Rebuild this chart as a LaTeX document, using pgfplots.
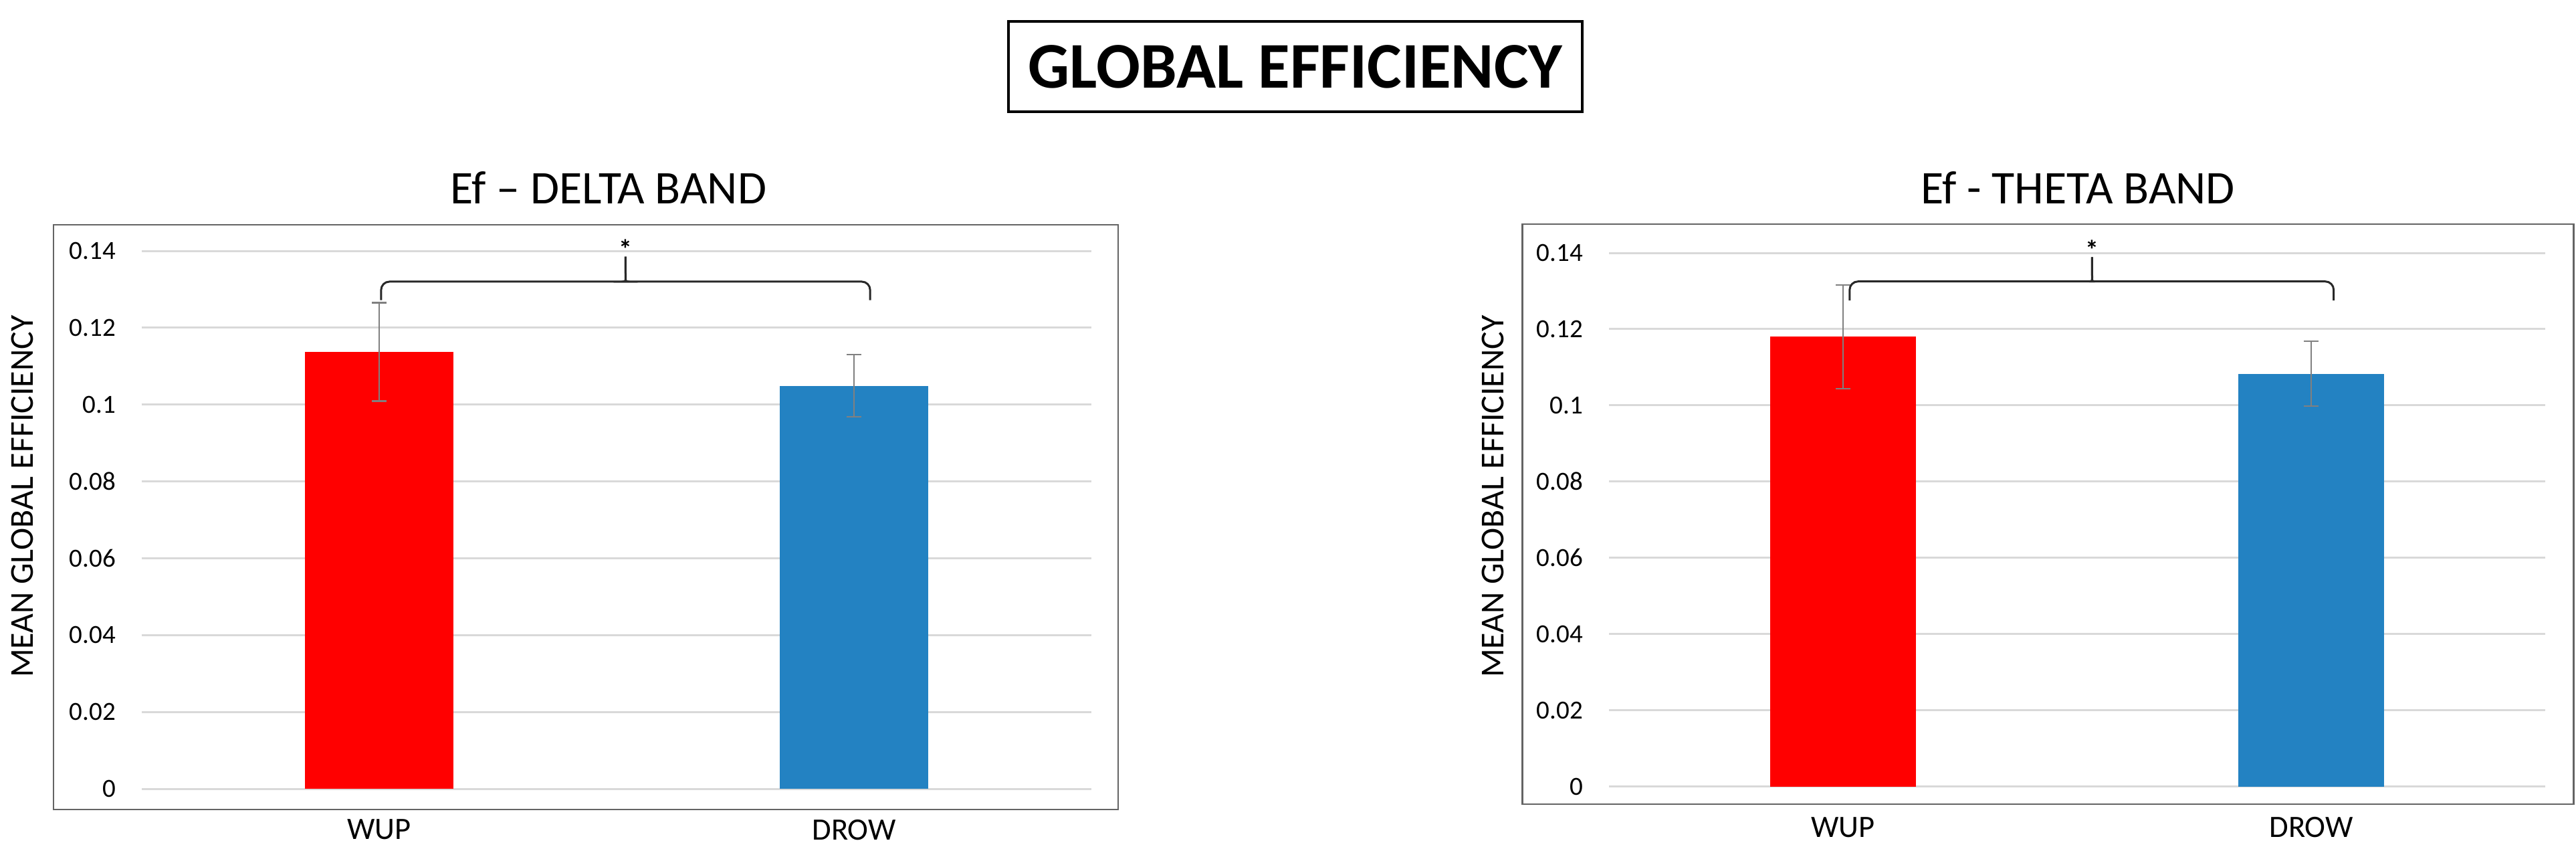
\documentclass[border=0pt]{standalone}
\usepackage{fontspec}
\setmainfont{Carlito}
\newfontfamily\gothic{Poppins}
\usepackage{pgfplots}
\pgfplotsset{compat=1.18}
\definecolor{barred}{RGB}{255,0,0}
\definecolor{barblue}{RGB}{35,130,194}
\definecolor{gridgray}{RGB}{217,217,217}
\definecolor{errgray}{RGB}{128,128,128}
\definecolor{bracegray}{RGB}{40,40,40}
\definecolor{framegray}{RGB}{100,100,100}
% significance brace: #1 left x, #2 right x, #3 middle x, #4 end y, #5 bar y, #6 tip y
\newcommand{\sigbrace}[6]{%
  \draw[bracegray, line width=0.6pt]
    (axis cs:#1,#4) [rounded corners=2.5pt] -- (axis cs:#1,#5) -- (axis cs:#3-0.012,#5) [sharp corners]
    .. controls (axis cs:#3-0.002,#5) and (axis cs:#3,#5+0.0005) .. (axis cs:#3,#5+0.0022) -- (axis cs:#3,#6);
  \draw[bracegray, line width=0.6pt]
    (axis cs:#2,#4) [rounded corners=2.5pt] -- (axis cs:#2,#5) -- (axis cs:#3+0.012,#5) [sharp corners]
    .. controls (axis cs:#3+0.002,#5) and (axis cs:#3,#5+0.0005) .. (axis cs:#3,#5+0.0022) -- (axis cs:#3,#6);
}
\pgfplotsset{
  effstyle/.style={
    scale only axis,
    anchor=south west,
    ymin=0, ymax=0.14,
    xmin=-0.5, xmax=1.5,
    clip=false,
    axis line style={draw=none},
    major tick length=0pt,
    ymajorgrids,
    grid style={gridgray, line width=0.6pt},
    ytick={0,0.02,0.04,0.06,0.08,0.1,0.12,0.14},
    scaled y ticks=false,
    yticklabel style={/pgf/number format/fixed, /pgf/number format/assume math mode=true, font=\fontsize{7.8}{9}\selectfont, anchor=east, inner sep=0pt, xshift=-7.6pt},
    xtick={0,1},
    xticklabels={WUP,DROW},
    xticklabel style={font=\fontsize{9.3}{10}\selectfont, anchor=north, inner sep=0pt, yshift=-9pt},
    ylabel={MEAN GLOBAL EFFICIENCY},
    ylabel style={font=\gothic\fontsize{9}{10}\selectfont},
  },
  errbar/.style={
    error bars/.cd, y dir=both, y explicit,
    error bar style={errgray, line width=0.5pt},
    error mark options={errgray, rotate=90, mark size=2.2pt, line width=0.5pt},
  },
}
\begin{document}
\begin{tikzpicture}
\useasboundingbox (0,0) rectangle (770.4pt,255.4pt);
% main title
\draw[line width=0.8pt] (301.6pt,222pt) rectangle (473.2pt,249pt);
\node[font=\bfseries\fontsize{19.5}{21}\selectfont] at (387.4pt,235.5pt) {GLOBAL EFFICIENCY};
% left chart
\draw[framegray, line width=0.5pt] (16pt,13.4pt) rectangle (334.4pt,188.2pt);
\node[font=\fontsize{14}{16}\selectfont] at (182pt,199.4pt) {Ef -- DELTA BAND};
\begin{axis}[effstyle, at={(42.4pt,19.6pt)}, width=284pt, height=160.8pt,
  every axis y label/.style={rotate=90, at={(rel axis cs:-0.126,0.5435)}, anchor=center}]
\addplot[ybar, fill=barred, draw=none, bar width=0.314, errbar] coordinates {(0,0.1137) +- (0,0.0128)};
\addplot[ybar, fill=barblue, draw=none, bar width=0.314, errbar] coordinates {(1,0.1049) +- (0,0.0081)};
\sigbrace{0.004}{1.034}{0.519}{0.1272}{0.1320}{0.1385}
\node[font=\bfseries\fontsize{8}{8}\selectfont, anchor=base] at (axis cs:0.519,0.1380) {*};
\end{axis}
% right chart
\draw[framegray, line width=0.5pt] (455.3pt,15pt) rectangle (769.7pt,188.4pt);
\node[font=\fontsize{14}{16}\selectfont] at (621.4pt,199.4pt) {Ef - THETA BAND};
\begin{axis}[effstyle, at={(481.2pt,20.3pt)}, width=280pt, height=159.5pt,
  every axis y label/.style={rotate=90, at={(rel axis cs:-0.124,0.5436)}, anchor=center}]
\addplot[ybar, fill=barred, draw=none, bar width=0.311, errbar] coordinates {(0,0.1180) +- (0,0.0136)};
\addplot[ybar, fill=barblue, draw=none, bar width=0.311, errbar] coordinates {(1,0.1083) +- (0,0.0085)};
\sigbrace{0.014}{1.048}{0.532}{0.1275}{0.1325}{0.1389}
\node[font=\bfseries\fontsize{8}{8}\selectfont, anchor=base] at (axis cs:0.532,0.1384) {*};
\end{axis}
\end{tikzpicture}
\end{document}
